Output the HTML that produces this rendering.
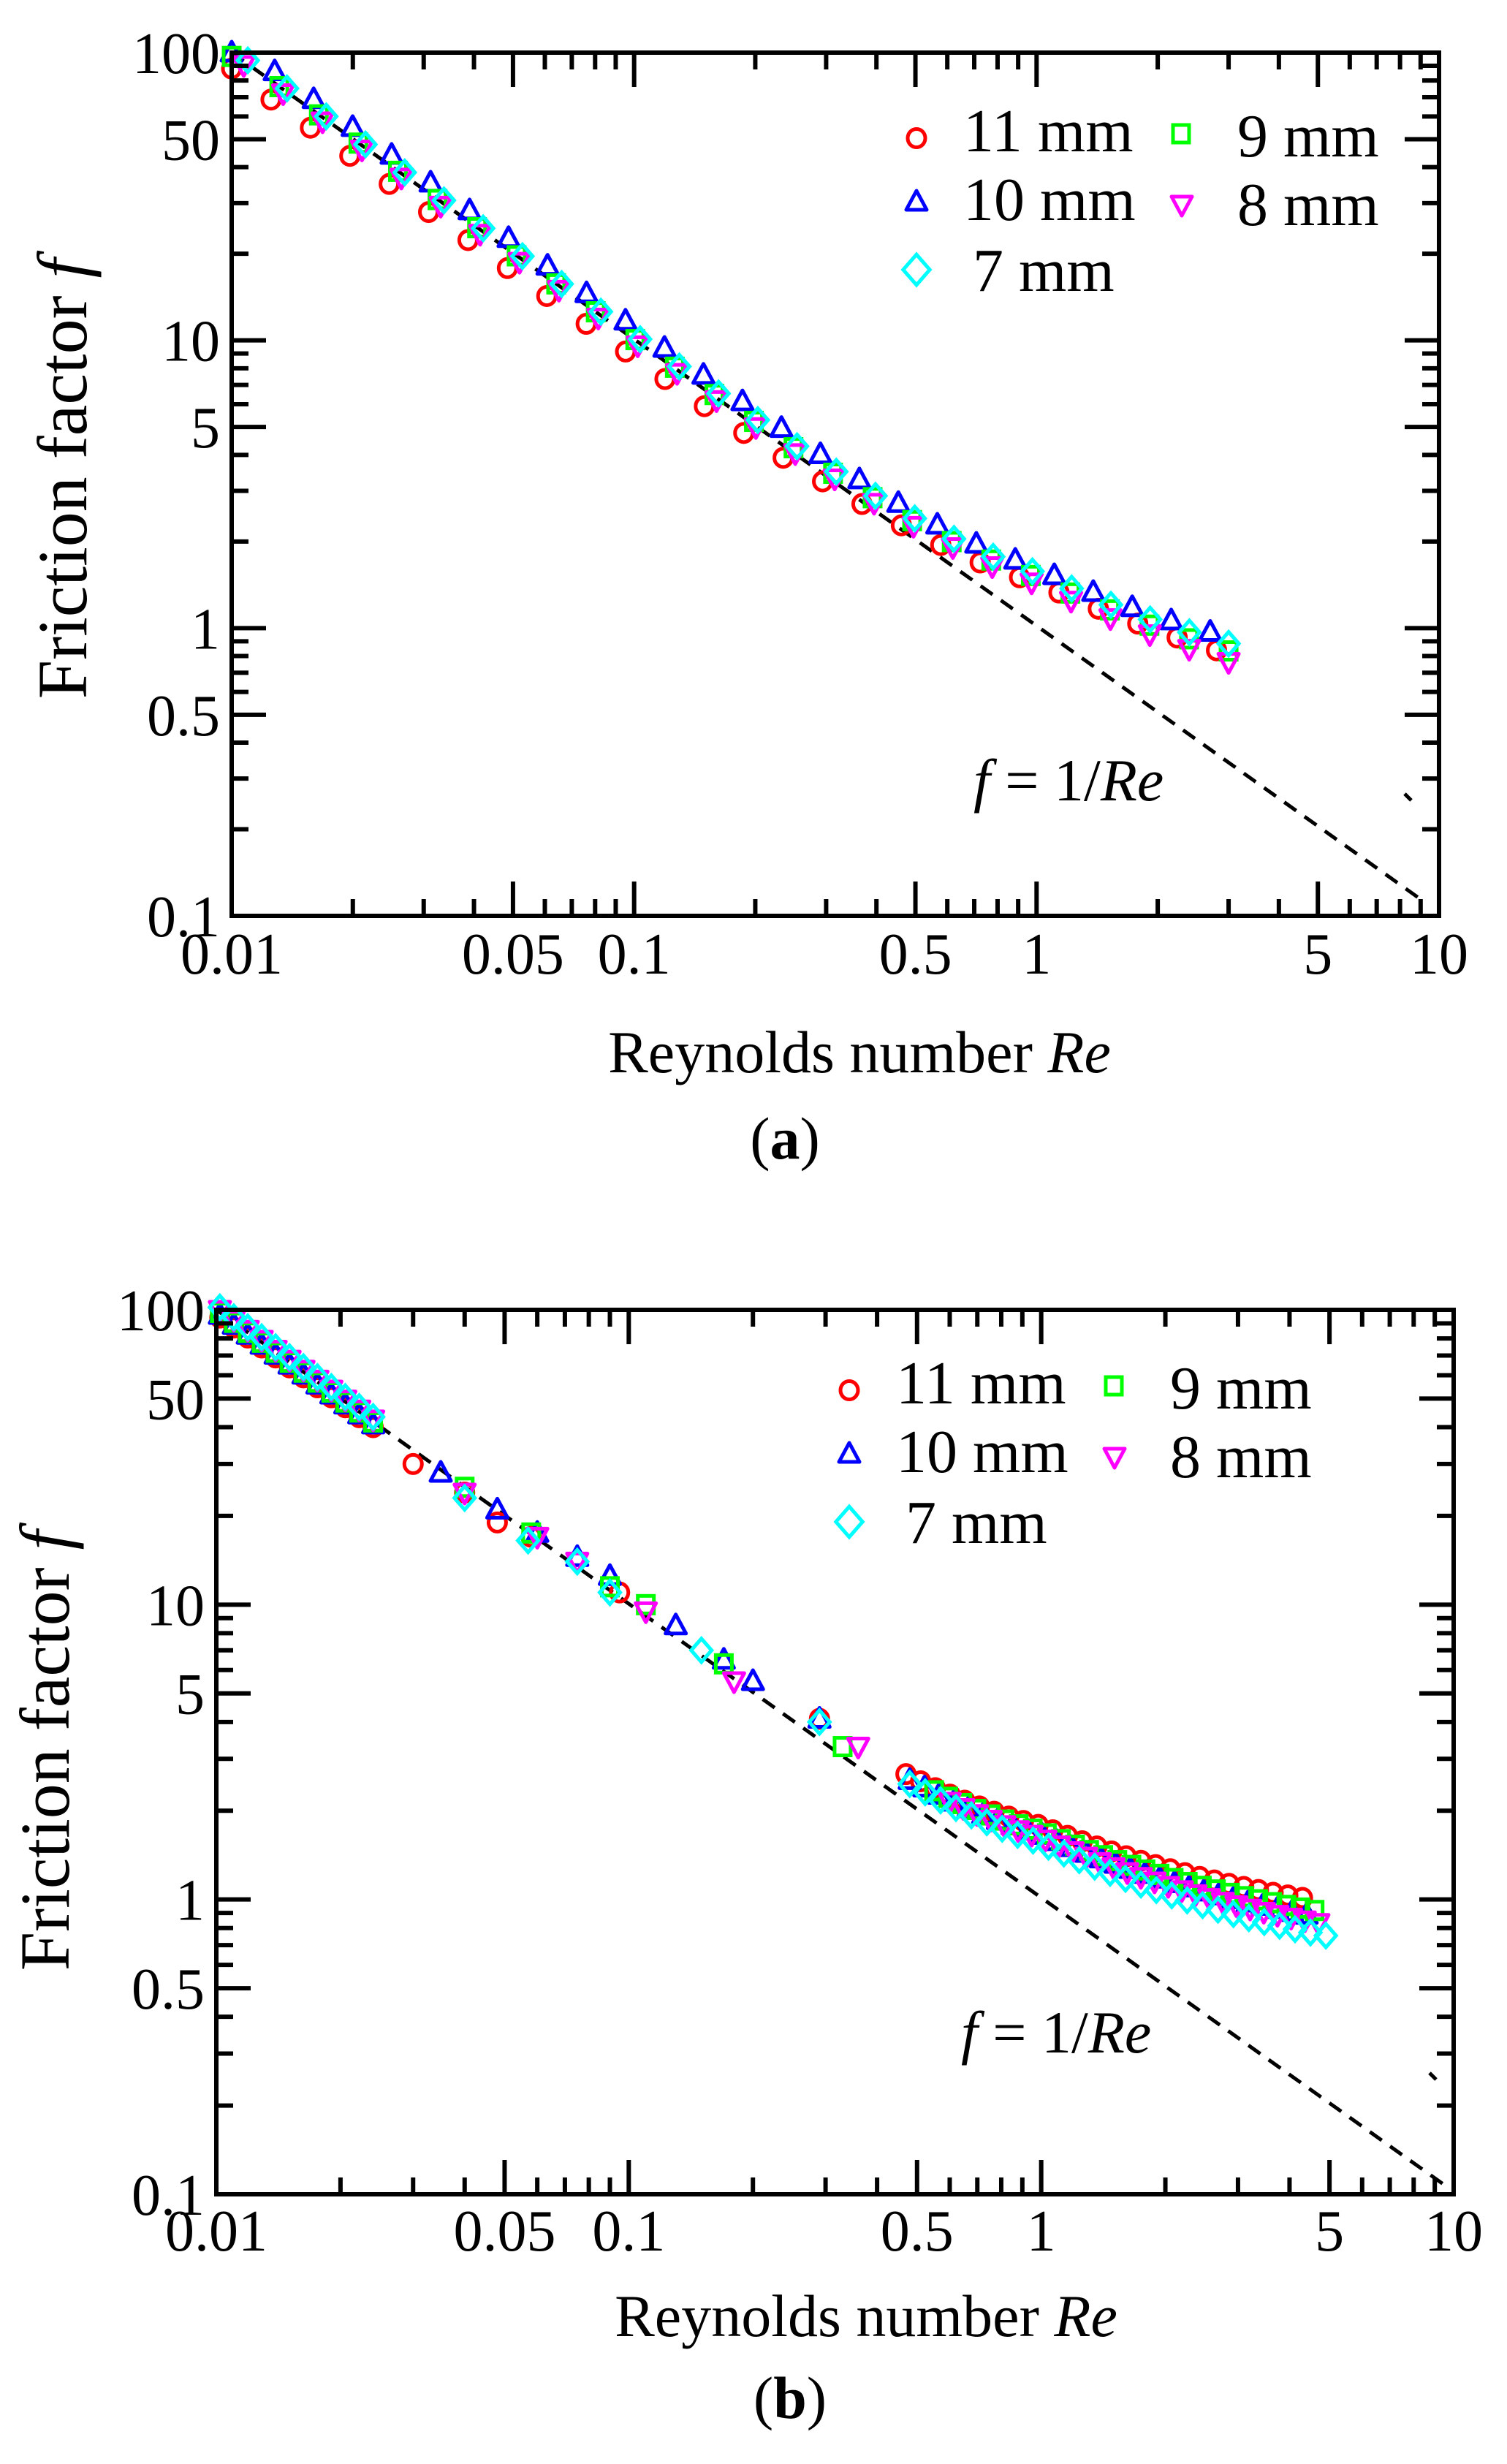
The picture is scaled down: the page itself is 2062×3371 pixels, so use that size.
<!DOCTYPE html>
<html><head><meta charset="utf-8"><style>html,body{margin:0;padding:0;background:#fff}svg{display:block}</style></head>
<body>
<svg id="s" xmlns="http://www.w3.org/2000/svg" width="2062" height="3371" viewBox="0 0 2062 3371" font-family="Liberation Serif, serif">
<rect width="2062" height="3371" fill="#fff"/>
</svg>
<script>
const S=document.getElementById('s');const NS='http://www.w3.org/2000/svg';
function el(t,a,txt){const e=document.createElementNS(NS,t);for(const k in a)e.setAttribute(k,a[k]);if(txt!==undefined)e.innerHTML=txt;S.appendChild(e);return e;}
const L=Math.log10;
const cols=['#ff0000','#0000ff','#00ff00','#ff00ff','#00ffff'];
function marker(k,x,y,c,sc){sc=sc||1;const sw=5;
 if(k==0)el('ellipse',{cx:x,cy:y,rx:12*sc,ry:12.5*sc,fill:'none',stroke:c,'stroke-width':sw});
 else if(k==1)el('polygon',{points:`${x},${y-15*sc} ${x+14*sc},${y+11*sc} ${x-14*sc},${y+11*sc}`,fill:'none',stroke:c,'stroke-width':sw,'stroke-linejoin':'round'});
 else if(k==2)el('rect',{x:x-11*sc,y:y-12*sc,width:22*sc,height:24*sc,fill:'none',stroke:c,'stroke-width':sw});
 else if(k==3)el('polygon',{points:`${x},${y+15*sc} ${x+14*sc},${y-11*sc} ${x-14*sc},${y-11*sc}`,fill:'none',stroke:c,'stroke-width':sw,'stroke-linejoin':'round'});
 else el('polygon',{points:`${x},${y-16*sc} ${x+14*sc},${y} ${x},${y+16*sc} ${x-14*sc},${y}`,fill:'none',stroke:c,'stroke-width':sw});
}
function panel(P){
 const X=r=>P.l+(P.r-P.l)/3*L(r/0.01), Y=f=>P.t+(P.b-P.t)/3*L(100/f);
 el('line',{x1:X(0.01),y1:Y(100),x2:P.lx,y2:P.ly,stroke:'#000','stroke-width':5,'stroke-dasharray':'20 14'});
 el('line',{x1:P.sx,y1:P.sy,x2:P.sx+9,y2:P.sy+9,stroke:'#000','stroke-width':5});
 P.data.forEach((ser,k)=>ser.forEach(p=>marker(k,X(p[0]),Y(p[1]),cols[k])));
 el('rect',{x:P.l,y:P.t,width:P.r-P.l,height:P.b-P.t,fill:'none',stroke:'#000','stroke-width':6});
 let d='';
 for(let e=-2;e<1;e++)for(let m=1;m<10;m++){const v=m*Math.pow(10,e);if(m==1&&e==-2)continue;const len=(m==1||m==5)?47:23;const x=X(v);d+=`M${x} ${P.b}v${-len}M${x} ${P.t}v${len}`;}
 for(let e=-1;e<2;e++)for(let m=1;m<10;m++){const v=m*Math.pow(10,e);if(m==1&&e==-1)continue;const len=(m==1||m==5)?47:23;const y=Y(v);d+=`M${P.l} ${y}h${len}M${P.r} ${y}h${-len}`;}
 el('path',{d:d,stroke:'#000','stroke-width':6,fill:'none'});
 [['0.01',0.01],['0.05',0.05],['0.1',0.1],['0.5',0.5],['1',1],['5',5],['10',10]].forEach(a=>el('text',{x:X(a[1]),y:P.xb,'font-size':80,'text-anchor':'middle'},a[0]));
 [['100',100],['50',50],['10',10],['5',5],['1',1],['0.5',0.5],['0.1',0.1]].forEach(a=>el('text',{x:P.l-16,y:Y(a[1])+28,'font-size':80,'text-anchor':'end'},a[0]));
 el('text',{x:P.xlx,y:P.xlb,'font-size':82,'text-anchor':'middle'},'Reynolds number <tspan font-style="italic">Re</tspan>');
 el('text',{x:0,y:0,'font-size':96,'text-anchor':'middle',transform:`translate(${P.ylx},${P.yly}) rotate(-90)`},'Friction factor <tspan font-style="italic">f</tspan>');
 el('text',{x:P.cx,y:P.cb,'font-size':82,'text-anchor':'middle'},'(<tspan font-weight="bold">'+P.cap+'</tspan>)');
 el('text',{x:P.fx,y:P.fb,'font-size':82},'<tspan font-style="italic">f</tspan> = 1/<tspan font-style="italic">Re</tspan>');
 const gx=P.gx,gy=P.gy;
 marker(0,gx,gy,cols[0]);el('text',{x:gx+64,y:gy+18,'font-size':84},'11 mm');
 marker(2,gx+362,gy-6,cols[2]);el('text',{x:gx+439,y:gy+25,'font-size':84},'9 mm');
 marker(1,gx,gy+87,cols[1]);el('text',{x:gx+64,y:gy+112,'font-size':84},'10 mm');
 marker(3,gx+363,gy+91,cols[3]);el('text',{x:gx+439,y:gy+119,'font-size':84},'8 mm');
 marker(4,gx,gy+180,cols[4],1.3);el('text',{x:gx+77,y:gy+209,'font-size':84},'7 mm');
}
function seq(a,b,n){const r=[];for(let i=0;i<n;i++)r.push(a*Math.pow(b/a,i/(n-1)));return r;}
const facA=[0.86,1.1,1.0,0.97,1.03], extA=[0.48,0.6,0.5,0.43,0.55];
const endA=[2.8,2.7,3.0,3.0,3.0], offA=[0,0.02,0.04,0.06,0.08];
const dataA=facA.map((fc,k)=>{const out=[];const rs=seq(0.01*Math.pow(10,offA[k]*0.5),endA[k],26);
 rs.forEach((r,i)=>{const w=Math.min(1,Math.max(0,L(r/0.2)));const lowfac=1+(fc-1)*(1-w);let f=(1/r)*lowfac+extA[k]*Math.pow(Math.min(r,1),0.6);out.push([r,f]);});return out;});
dataA[0][0]=[0.01,88];dataA[1][0]=[0.01,100];dataA[2][0]=[0.01,97];
const extB=[0.78,0.66,0.7,0.62,0.55];
const mid=[
 [[0.03,30],[0.04,24],[0.048,19],[0.058,17],[0.095,11],[0.29,4.1]],
 [[0.035,28],[0.048,21],[0.06,17.5],[0.075,14.5],[0.09,12.5],[0.13,8.5],[0.17,6.5],[0.2,5.5],[0.29,4.1]],
 [[0.04,25],[0.058,17.5],[0.09,11.5],[0.11,10],[0.17,6.3],[0.33,3.3]],
 [[0.04,24],[0.06,17],[0.075,14],[0.11,9.5],[0.18,5.5],[0.36,3.3]],
 [[0.04,23],[0.057,16.5],[0.075,14],[0.09,11],[0.15,7],[0.29,4]]];
const endB=[4.3,4.4,4.6,4.7,4.9], startB=[0.47,0.48,0.55,0.6,0.48];
const dataB=extB.map((e,k)=>{const out=[];seq(0.0102,0.024,12).forEach(r=>out.push([r,1/r*(1+0.02*(k-2))]));
 mid[k].forEach(p=>out.push(p));
 seq(startB[k],endB[k],28).forEach(r=>out.push([r,1/r+e*Math.pow(Math.min(r,1),0.5)]));return out;});
panel({l:317,r:1969,t:72,b:1253,lx:1942,ly:1229,sx:1922,sy:1086,data:dataA,xb:1332,xlx:1176,xlb:1467,ylx:118,yly:655,cx:1074,cb:1585,cap:'a',fx:1332,fb:1095,gx:1254,gy:189});
panel({l:296,r:1989,t:1792,b:3002,lx:1976,ly:2989,sx:1956,sy:2836,data:dataB,xb:3079,xlx:1185,xlb:3196,ylx:94,yly:2395,cx:1081,cb:3308,cap:'b',fx:1315,fb:2808,gx:1162,gy:1902});
</script>
</body></html>
